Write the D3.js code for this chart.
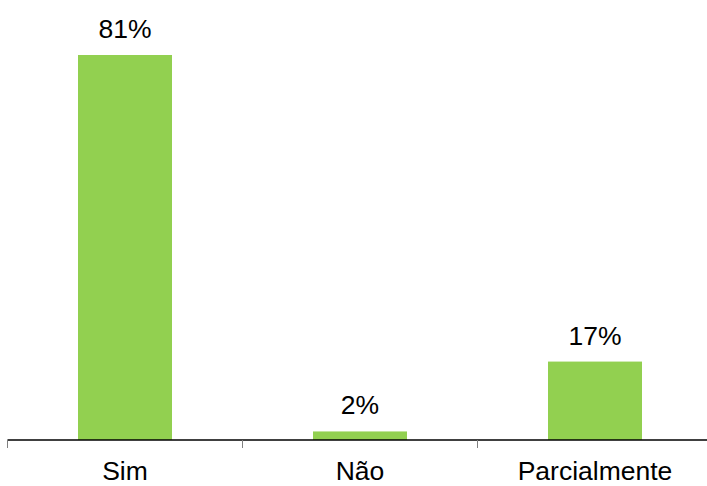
<!DOCTYPE html>
<html><head><meta charset="utf-8">
<script src="https://cdn.jsdelivr.net/npm/d3@7"></script>
<style>body{margin:0;background:#fff}svg{display:block}</style>
</head><body>
<script>
const categories = ["Sim", "Não", "Parcialmente"];
const values = [81, 1.8, 16.5];
const labels = ["81%", "2%", "17%"];

const W = 707, H = 486;
const svg = d3.select("body").append("svg").attr("width", W).attr("height", H);
const x = d3.scaleBand().domain(categories).range([7.5, 712.5]).padding(0);
const y = d3.scaleLinear().domain([0, 81]).range([440, 55]);
const barW = x.bandwidth() * 0.4;
const font = "'Liberation Sans', Arial, sans-serif";
const fs = 26.5;

svg.selectAll("rect.bar").data(categories).enter().append("rect")
  .attr("x", d => x(d) + (x.bandwidth() - barW) / 2)
  .attr("y", (d, i) => y(values[i]))
  .attr("width", barW)
  .attr("height", (d, i) => y(0) - y(values[i]))
  .attr("fill", "#92d050");

svg.selectAll("text.val").data(categories).enter().append("text")
  .attr("x", d => x(d) + x.bandwidth() / 2)
  .attr("y", (d, i) => y(values[i]) - 17)
  .attr("text-anchor", "middle")
  .attr("font-family", font).attr("font-size", fs).attr("fill", "#000")
  .text((d, i) => labels[i]);

const axis = d3.axisBottom(x).tickSize(0).tickPadding(0);
const g = svg.append("g").attr("transform", "translate(0,440)");
g.append("line").attr("x1", 7.5).attr("x2", 712.5).attr("y1", 0).attr("y2", 0).attr("stroke", "#000").attr("stroke-width", 1.3);
const bounds = [...categories.map(c => x(c)), x.range()[1]];
g.selectAll("line.tk").data(bounds).enter().append("line")
  .attr("x1", d => d).attr("x2", d => d).attr("y1", 0).attr("y2", 8)
  .attr("stroke", "#808080").attr("stroke-width", 1);
const ag = g.append("g").call(axis);
ag.select(".domain").remove();
ag.selectAll("text").attr("font-family", font).attr("font-size", fs).attr("fill", "#000").attr("dy", null).attr("y", 39.5);
</script>
</body></html>
